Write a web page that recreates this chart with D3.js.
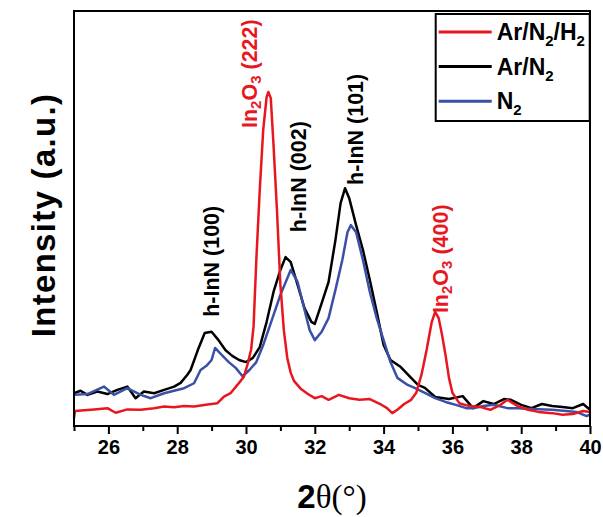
<!DOCTYPE html>
<html>
<head>
<meta charset="utf-8">
<script src="https://cdn.jsdelivr.net/npm/d3@7"></script>
<style>
  body { margin: 0; background: #fff; }
  text { font-family: "Liberation Sans", Arial, sans-serif; }
</style>
</head>
<body>
<div id="chart"></div>
<script>
// XRD patterns, intensity in a.u.
var arN2H2 = [[25.0,1.9],[25.03,3.6],[25.3,3.8],[25.58,4.0],[25.97,4.3],[26.21,3.2],[26.55,4.0],[26.94,3.9],[27.33,4.3],[27.62,4.7],
  [27.91,4.5],[28.2,4.8],[28.49,4.7],[28.88,5.2],[29.17,5.5],[29.36,7.1],[29.55,7.9],[29.75,9.9],[29.94,11.9],[30.05,15.0],
  [30.15,18.5],[30.22,24.0],[30.3,40.0],[30.4,56.9],[30.5,71.3],[30.6,79.3],[30.65,80.5],[30.72,79.0],[30.8,67.7],[30.9,52.0],
  [31.0,34.0],[31.1,23.1],[31.2,16.4],[31.3,12.8],[31.4,10.8],[31.6,8.9],[31.8,7.7],[32.0,6.7],[32.2,7.2],[32.4,6.3],
  [32.7,7.5],[33.0,6.7],[33.3,6.3],[33.6,6.5],[33.9,5.3],[34.1,4.3],[34.25,3.1],[34.4,3.9],[34.6,5.3],[34.8,6.3],
  [34.95,8.0],[35.1,12.3],[35.25,18.3],[35.4,25.1],[35.5,27.5],[35.6,26.0],[35.7,21.9],[35.8,17.1],[35.9,11.6],[36.0,8.0],
  [36.2,5.5],[36.5,4.8],[36.8,4.6],[37.1,3.9],[37.4,5.1],[37.6,6.3],[37.9,4.8],[38.2,3.9],[38.5,3.4],[38.9,3.1],
  [39.2,2.7],[39.5,2.9],[39.8,3.6],[40.0,3.4]];

var arN2 = [[25.0,7.9],[25.19,8.5],[25.39,7.5],[25.68,8.3],[25.97,7.7],[26.26,8.7],[26.55,9.5],[26.79,6.7],[27.03,8.3],[27.33,7.9],
  [27.62,8.7],[27.91,9.5],[28.1,10.4],[28.29,12.3],[28.39,13.5],[28.6,18.3],[28.8,22.4],[29.0,22.7],[29.2,20.7],[29.4,18.3],
  [29.6,16.9],[29.8,15.9],[30.0,15.4],[30.2,16.4],[30.4,19.0],[30.6,25.1],[30.8,32.3],[31.0,37.6],[31.15,40.7],[31.3,39.5],
  [31.5,34.0],[31.7,28.4],[31.9,25.1],[32.0,24.6],[32.2,29.6],[32.4,34.7],[32.6,44.8],[32.75,53.7],[32.88,57.3],[33.0,54.9],
  [33.2,48.4],[33.4,42.4],[33.6,35.2],[33.8,27.5],[34.0,19.5],[34.2,15.9],[34.5,14.2],[34.8,11.6],[35.0,9.9],[35.2,9.2],
  [35.5,7.0],[35.9,6.5],[36.3,7.2],[36.6,4.3],[36.9,6.0],[37.2,5.3],[37.5,6.5],[37.7,6.3],[38.0,5.1],[38.3,4.3],
  [38.6,5.3],[38.9,4.8],[39.2,4.6],[39.5,4.3],[39.8,5.3],[40.0,3.9]];

var n2 = [[25.0,7.5],[25.39,7.7],[25.87,9.5],[26.16,7.5],[26.55,9.1],[26.94,7.5],[27.23,6.7],[27.62,7.9],[27.91,8.5],[28.2,9.1],
  [28.49,10.3],[28.68,13.5],[28.85,14.5],[29.0,15.9],[29.1,18.8],[29.3,17.1],[29.5,15.4],[29.7,14.0],[29.9,12.0],[30.1,13.5],
  [30.3,15.4],[30.5,19.5],[30.7,24.3],[31.0,31.6],[31.3,37.6],[31.5,34.7],[31.7,28.0],[31.85,23.1],[32.0,20.7],[32.2,22.7],
  [32.4,26.0],[32.6,32.8],[32.8,40.0],[32.95,46.7],[33.05,48.4],[33.2,46.7],[33.4,40.0],[33.6,32.3],[33.8,26.0],[34.0,20.7],
  [34.2,15.4],[34.4,11.6],[34.7,9.9],[34.9,9.2],[35.2,8.0],[35.5,6.7],[35.8,5.8],[36.1,5.1],[36.4,4.3],[36.6,4.3],
  [36.9,4.8],[37.2,5.1],[37.6,4.3],[37.9,4.3],[38.3,4.1],[38.9,3.9],[39.3,3.6],[39.6,3.4],[39.9,2.4],[40.0,2.7]];

var seriesNames = [["Ar/N", "2", "/H", "2"], ["Ar/N", "2"], ["N", "2"]];
var seriesColors = ["#e8171f", "#000000", "#3a50a6"];
var xTicks = [26, 28, 30, 32, 34, 36, 38, 40];

// peak labels: position [2theta, intensity], text parts (odd index = subscript)
var peakLabels = [
  { x: 29.01, y: 26.3, color: "#000", parts: ["h-InN (100)"] },
  { x: 31.54, y: 46.7, color: "#000", parts: ["h-InN (002)"] },
  { x: 33.2,  y: 58.1, color: "#000", parts: ["h-InN (101)"] },
  { x: 30.12, y: 71.8, color: "#e8171f", parts: ["In", "2", "O", "3", " (222)"] },
  { x: 35.67, y: 27.2, color: "#e8171f", parts: ["In", "2", "O", "3", " (400)"] }
];

var margin = {top: 11, right: 13, bottom: 91, left: 74},
    width = 603 - margin.left - margin.right,
    height = 517 - margin.top - margin.bottom;

var svg = d3.select("#chart").append("svg")
    .attr("width", 603)
    .attr("height", 517);

var g = svg.append("g")
    .attr("transform", "translate(" + margin.left + "," + margin.top + ")");

var x = d3.scaleLinear().domain([25, 40]).range([0, width]);
var y = d3.scaleLinear().domain([0, 100]).range([height, 0]);

var line = d3.line()
    .x(function(d) { return x(d[0]); })
    .y(function(d) { return y(d[1]); });

// curves
[[arN2, 1], [n2, 2], [arN2H2, 0]].forEach(function(s) {
  g.append("path")
    .datum(s[0])
    .attr("fill", "none")
    .attr("stroke", seriesColors[s[1]])
    .attr("stroke-width", 2.5)
    .attr("stroke-linejoin", "round")
    .attr("d", line);
});

// frame
g.append("rect")
  .attr("x", 0).attr("y", 0)
  .attr("width", width).attr("height", height)
  .attr("fill", "none")
  .attr("stroke", "#000")
  .attr("stroke-width", 2);

// x axis, major + minor ticks
var xAxis = g.append("g")
  .attr("transform", "translate(0," + height + ")")
  .call(d3.axisBottom(x).tickValues(xTicks).tickSize(8).tickPadding(6).tickFormat(d3.format("d")));
xAxis.select(".domain").remove();
xAxis.selectAll("line").attr("stroke-width", 2);
xAxis.selectAll("text")
  .attr("font-size", 20)
  .attr("font-weight", "bold")
  .attr("font-family", "Liberation Sans, Arial, sans-serif")
  .attr("fill", "#000");

g.append("g")
  .attr("transform", "translate(0," + height + ")")
  .call(d3.axisBottom(x).tickValues(d3.range(25, 41, 1).filter(function(v) { return v % 2 === 1; }))
    .tickSize(5).tickFormat(""))
  .call(function(a) { a.select(".domain").remove(); a.selectAll("line").attr("stroke-width", 2); });

// axis titles
var xt = svg.append("text")
  .attr("x", 332)
  .attr("y", 508)
  .attr("text-anchor", "middle")
  .attr("font-size", 33);
xt.append("tspan").attr("font-weight", "bold").text("2");
xt.append("tspan").attr("font-family", "Liberation Serif, Times New Roman, serif").text("θ(°)");

svg.append("text")
  .attr("transform", "translate(55,215) rotate(-90)")
  .attr("text-anchor", "middle")
  .attr("font-size", 33)
  .attr("font-weight", "bold")
  .attr("letter-spacing", 1.3)
  .text("Intensity (a.u.)");

// peak labels
peakLabels.forEach(function(p) {
  var t = g.append("text")
    .attr("transform", "translate(" + x(p.x) + "," + y(p.y) + ") rotate(-90)")
    .attr("dominant-baseline", "central")
    .attr("font-size", 21.5)
    .attr("font-weight", "bold")
    .attr("fill", p.color);
  p.parts.forEach(function(s, i) {
    var sub = i % 2 === 1;
    t.append("tspan")
      .attr("font-size", sub ? 15 : 21.5)
      .attr("dy", sub ? 5 : (i > 0 ? -5 : 0))
      .text(s);
  });
});

// legend
var legend = g.append("g").attr("transform", "translate(" + (x(35.5) + 0.5) + ",3)");
legend.append("rect")
  .attr("width", 154).attr("height", 107)
  .attr("fill", "#fff")
  .attr("stroke", "#000")
  .attr("stroke-width", 2);
seriesNames.forEach(function(parts, i) {
  var row = legend.append("g").attr("transform", "translate(0," + (18 + i * 34.6) + ")");
  row.append("line")
    .attr("x1", 3).attr("x2", 56)
    .attr("stroke", seriesColors[i])
    .attr("stroke-width", 3);
  var t = row.append("text")
    .attr("x", 61).attr("y", 8)
    .attr("font-size", 23)
    .attr("font-weight", "bold");
  parts.forEach(function(s, j) {
    var sub = j % 2 === 1;
    t.append("tspan")
      .attr("font-size", sub ? 15 : 23)
      .attr("dy", sub ? 6 : (j > 0 ? -6 : 0))
      .text(s);
  });
});
</script>
</body>
</html>
